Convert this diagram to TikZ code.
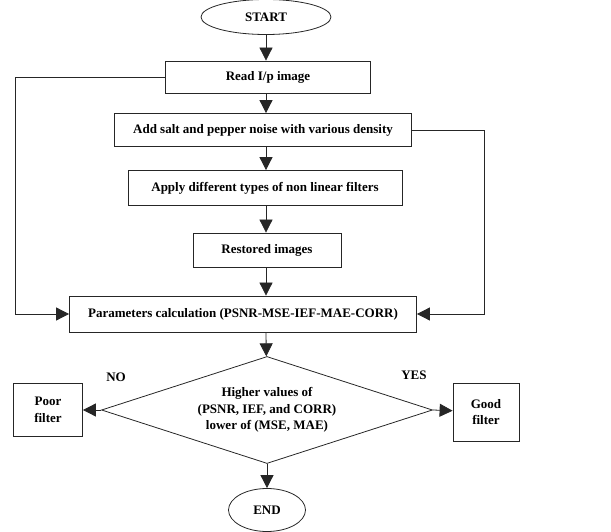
\documentclass[tikz,border=0pt]{standalone}
\usepackage{fontspec}
\setmainfont{Liberation Serif}
\usetikzlibrary{arrows.meta,shapes.geometric}

\begin{document}
\begin{tikzpicture}[->,>={Triangle[length=13pt,width=13pt]},x=1pt,y=1pt,
                    line width=0.8pt,draw=black!85,
                    font=\fontsize{13}{16.5}\selectfont\bfseries]
  \tikzset{
    block/.style={draw,rectangle,inner sep=2pt,align=center},
    terminal/.style={draw,ellipse,inner sep=0pt},
    decision/.style={draw,diamond,aspect=3.1,inner sep=0pt,align=center,
                     minimum width=331pt,minimum height=107pt}
  }
  \useasboundingbox (0,0) rectangle (611,531);

  	\node[terminal,minimum width=130pt,minimum height=35pt] (start) at (266,514) {START};
  	\node[block,minimum width=205pt,minimum height=32pt,xshift=2pt] (read) [below of=start,node distance=60pt] {Read I/p image};
	\node[block,minimum width=297pt,minimum height=33pt,xshift=-5pt] (add) [below of=read,node distance=53pt] {Add salt and pepper noise with various density};
	\node[block,minimum width=274pt,minimum height=35pt,xshift=2pt] (apply) [below of=add,node distance=58pt] {Apply different types of non linear filters};
	\node[block,minimum width=148pt,minimum height=34pt,xshift=2pt] (restored) [below of=apply,node distance=62pt] {Restored images};
	\node[block,minimum width=347pt,minimum height=36pt,xshift=-24pt] (params) [below of=restored,node distance=64pt] {Parameters calculation (PSNR-MSE-IEF-MAE-CORR)};
	\node[decision,xshift=24pt] (dec) [below of=params,node distance=96pt] {Higher values of\\(PSNR, IEF, and CORR)\\lower of (MSE, MAE)};
	\node[terminal,minimum width=77pt,minimum height=43pt] (end) [below of=dec,node distance=100pt] {END};
	\node[block,minimum width=69pt,minimum height=53pt] (poor) [left of=dec,node distance=219pt] {Poor\\filter};
	\node[block,minimum width=66pt,minimum height=58pt,yshift=-2pt] (good) [right of=dec,node distance=219pt] {Good\\filter};

	\node[draw=none] (no) at ([shift={(15,33)}]dec.west) {NO};
	\node[draw=none] (yes) at ([shift={(-19,35)}]dec.east) {YES};

	\path (start) edge (start |- read.north);
	\path (start |- read.south) edge (start |- add.north);
	\path (start |- add.south) edge (start |- apply.north);
	\path (start |- apply.south) edge (start |- restored.north);
	\path (start |- restored.south) edge (start |- params.north);
	\path (start |- params.south) edge (dec);
	\path (dec) edge (end);
	\path (dec.west) edge (poor);
	\path (dec.east) edge (good);

	\draw (read.west) -- ++(-150,0) |- (params.west);
	\draw (add.east) -- ++(72,0) |- (params.east);

\end{tikzpicture}
\end{document}
